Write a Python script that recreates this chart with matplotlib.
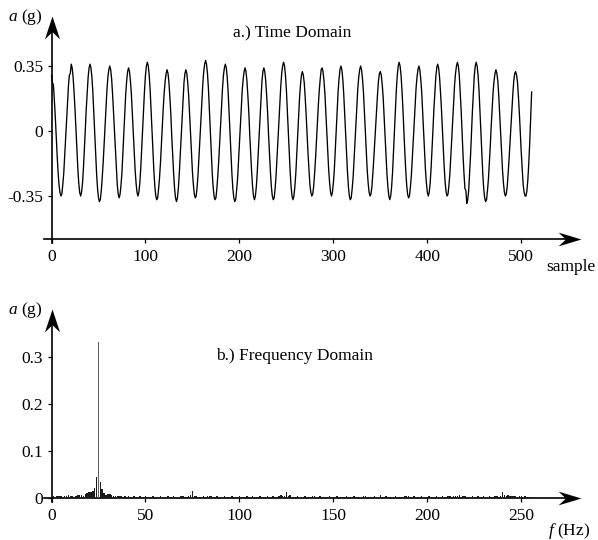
import numpy as np
import matplotlib
matplotlib.use('Agg')
import matplotlib.pyplot as plt

plt.rcParams['font.family'] = ['Liberation Serif', 'DejaVu Serif']
plt.rcParams['mathtext.fontset'] = 'custom'
plt.rcParams['mathtext.it'] = 'Liberation Serif:italic'
plt.rcParams['mathtext.rm'] = 'Liberation Serif'
plt.rcParams['axes.unicode_minus'] = False

# ---------------- data ----------------
# time-domain acceleration, hundredths of g, one value per sample (0..511)
signal_cg = [
    30, 26, 25, 17, 8, -3, -13, -22, -29, -33,
    -35, -34, -29, -23, -14, -5, 5, 15, 24, 30, 31,
    36, 34, 29, 21, 12, 1, -10, -20, -28, -33,
    -35, -33, -28, -20, -10, 1, 12, 21, 29, 34,
    36, 34, 29, 21, 10, -1, -12, -23, -31, -36,
    -38, -37, -32, -25, -17, -7, 4, 14, 22, 29, 33,
    35, 33, 28, 20, 10, 0, -11, -21, -29, -34,
    -36, -34, -29, -22, -12, -1, 10, 20, 27, 32,
    34, 32, 27, 20, 10, 0, -11, -21, -28, -33,
    -35, -33, -28, -20, -10, 1, 12, 22, 30, 35,
    37, 35, 30, 22, 11, 0, -11, -22, -30, -35,
    -37, -36, -31, -25, -17, -7, 3, 13, 21, 27, 31,
    33, 31, 26, 18, 9, -3, -13, -23, -31, -36,
    -38, -36, -31, -23, -13, -2, 8, 18, 26, 31,
    33, 31, 26, 19, 9, -2, -12, -22, -29, -34,
    -36, -35, -30, -23, -14, -4, 6, 16, 25, 32, 36,
    38, 36, 31, 23, 12, 0, -11, -22, -30, -35,
    -37, -36, -31, -24, -16, -6, 5, 15, 23, 30, 34,
    36, 34, 29, 21, 10, -1, -12, -23, -31, -36,
    -38, -37, -32, -26, -17, -7, 3, 13, 22, 28, 32,
    34, 32, 27, 19, 10, -2, -12, -22, -30, -35,
    -37, -35, -30, -22, -12, -1, 9, 19, 27, 32,
    34, 32, 27, 19, 10, -2, -12, -22, -30, -35,
    -37, -36, -31, -24, -15, -5, 5, 15, 24, 31, 35,
    37, 35, 30, 22, 11, 0, -11, -22, -30, -35,
    -37, -35, -30, -23, -13, -2, 8, 18, 25, 30,
    32, 30, 26, 18, 9, -2, -12, -21, -29, -33,
    -35, -34, -30, -23, -15, -5, 4, 14, 22, 28, 33,
    34, 32, 27, 20, 10, 0, -11, -21, -28, -33,
    -35, -33, -28, -21, -11, 0, 11, 21, 28, 33,
    35, 33, 28, 20, 10, -1, -12, -22, -30, -35,
    -37, -36, -31, -25, -16, -6, 4, 14, 23, 29, 33,
    35, 33, 28, 21, 11, 0, -11, -21, -28, -33,
    -35, -34, -30, -23, -15, -6, 3, 12, 20, 27, 31,
    32, 30, 25, 18, 8, -3, -13, -23, -30, -35,
    -37, -35, -30, -22, -11, 0, 11, 22, 30, 35,
    37, 35, 30, 22, 12, 0, -11, -21, -29, -34,
    -36, -35, -30, -24, -15, -5, 4, 14, 23, 29, 33,
    35, 33, 28, 21, 11, 0, -11, -21, -28, -33,
    -35, -33, -28, -20, -10, 1, 12, 21, 29, 34,
    36, 34, 29, 21, 12, 1, -10, -20, -28, -33,
    -35, -34, -29, -23, -14, -4, 6, 16, 25, 31, 35,
    37, 35, 30, 21, 11, -1, -13, -23, -31, -32,
    -39, -37, -32, -23, -13, -1, 11, 21, 30, 35,
    37, 35, 30, 22, 11, 0, -12, -23, -31, -36,
    -38, -37, -32, -26, -17, -8, 3, 12, 21, 27, 31,
    33, 31, 27, 19, 9, -1, -12, -21, -28, -33,
    -35, -34, -30, -23, -15, -6, 3, 12, 20, 27, 31,
    32, 30, 26, 18, 9, -2, -12, -21, -29, -33,
    -35, -35, -32, -26, -17, -6, 7, 21,
]

# spectrum amplitude, thousandths of g, one value per 1 Hz bin (0..256 Hz)
spectrum_mg = [
    3, 4, 3, 4, 4, 4, 3, 4, 4, 6,
    4, 4, 3, 4, 7, 7, 6, 5, 9, 11,
    12, 12, 14, 22, 45, 332, 35, 19, 11, 6,
    8, 8, 7, 5, 5, 4, 5, 4, 3, 4,
    3, 4, 3, 3, 4, 3, 3, 4, 3, 3,
    4, 3, 3, 3, 4, 3, 3, 3, 4, 3,
    3, 3, 4, 3, 3, 4, 3, 3, 3, 4,
    5, 3, 3, 4, 7, 14, 5, 4, 3, 3,
    3, 4, 3, 5, 5, 4, 3, 3, 4, 3,
    3, 3, 4, 3, 3, 3, 4, 3, 3, 3,
    4, 3, 3, 3, 4, 3, 3, 4, 3, 3,
    3, 4, 3, 3, 3, 4, 3, 3, 4, 3,
    3, 4, 6, 4, 5, 13, 5, 6, 3, 3,
    3, 4, 3, 3, 3, 4, 3, 3, 3, 4,
    5, 3, 3, 4, 3, 3, 3, 3, 4, 3,
    3, 3, 4, 3, 3, 3, 3, 4, 3, 3,
    3, 4, 3, 3, 3, 3, 4, 5, 3, 3,
    3, 3, 4, 3, 3, 7, 3, 3, 4, 3,
    3, 3, 3, 4, 3, 3, 3, 3, 4, 5,
    5, 3, 3, 4, 3, 3, 3, 4, 3, 3,
    3, 4, 3, 3, 3, 4, 3, 3, 4, 3,
    3, 4, 4, 3, 5, 5, 4, 7, 3, 4,
    4, 3, 3, 3, 5, 3, 3, 4, 3, 3,
    4, 3, 3, 4, 3, 3, 4, 4, 3, 5,
    12, 6, 5, 6, 5, 4, 4, 5, 3, 4,
    4, 3, 4, 3, 3, 3, 3,
]

time_ticks = [0, 100, 200, 300, 400, 500]
time_yticks = [-0.35, 0, 0.35]
time_ylabels = ['-0.35', '0', '0.35']
freq_ticks = [0, 50, 100, 150, 200, 250]
freq_yticks = [0, 0.1, 0.2, 0.3]
freq_ylabels = ['0', '0.1', '0.2', '0.3']

samples = np.arange(len(signal_cg))
accel = np.array(signal_cg) / 100.0
freqs = np.arange(len(spectrum_mg))
amps = np.array(spectrum_mg) / 1000.0

# ---------------- figure ----------------
W, H = 598, 540
fig = plt.figure(figsize=(W / 100, H / 100), dpi=100)
FS = 12.5

def add_ax(l, t, r, b):
    return fig.add_axes([l / W, 1 - b / H, (r - l) / W, (b - t) / H])

UP = [(0, 0), (0.33, -1), (0, -0.68), (-0.33, -1), (0, 0)]
RIGHT = [(0, 0), (-1, 0.30), (-0.68, 0), (-1, -0.30), (0, 0)]
AMS = 33

def style_axes(ax, xaxis_y, xstart, xtip, ybot, ytip, xgap, ygap):
    for s in ('top', 'right'):
        ax.spines[s].set_visible(False)
    ax.spines['left'].set_position(('data', 0))
    ax.spines['bottom'].set_position(('data', xaxis_y))
    ax.spines['left'].set_bounds(ybot, ytip - ygap)
    ax.spines['bottom'].set_bounds(xstart, xtip - xgap)
    for s in ('left', 'bottom'):
        ax.spines[s].set_linewidth(1.2)
    ax.plot([0], [ytip], marker=UP, ms=AMS, color='black', mew=0,
            clip_on=False, zorder=5)
    ax.plot([xtip], [xaxis_y], marker=RIGHT, ms=AMS, color='black', mew=0,
            clip_on=False, zorder=5)
    ax.tick_params(axis='both', direction='out', length=3, width=0.9,
                   labelsize=FS, colors='black')
    ax.tick_params(axis='y', pad=3)
    ax.tick_params(axis='x', pad=4)
    ax.patch.set_visible(False)

# ---- top: time domain ----
ax1 = add_ax(30, 5, 590, 250)
sx1 = (521.3 - 51.5) / 500.0      # px per sample
sy1 = 65.0 / 0.35                 # px per g
ax1.set_xlim((30 - 51.5) / sx1, (590 - 51.5) / sx1)
ax1.set_ylim((131 - 250) / sy1, (131 - 5) / sy1)
ax1.plot(samples, accel, color='black', lw=0.95)
style_axes(ax1, (131 - 239) / sy1, (44 - 51.5) / sx1, (581 - 51.5) / sx1,
           (131 - 243) / sy1, (131 - 16) / sy1, 12 / sx1, 12 / sy1)
ax1.set_xticks(time_ticks)
ax1.set_xticklabels([str(t) for t in time_ticks])
ax1.set_yticks(time_yticks)
ax1.set_yticklabels(time_ylabels)

# ---- bottom: frequency domain ----
ax2 = add_ax(30, 290, 590, 525)
sx2 = (521.3 - 51.5) / 250.0      # px per Hz
sy2 = 470.0                       # px per g
ax2.set_xlim((30 - 51.5) / sx2, (590 - 51.5) / sx2)
ax2.set_ylim((498 - 525) / sy2, (498 - 290) / sy2)
bar_colors = ['#5e5e5e' if a > 0.1 else '#1a1a1a' for a in amps]
bar_widths = [1.0 if a > 0.1 else 0.8 for a in amps]
ax2.bar(freqs, amps, width=bar_widths, color=bar_colors, linewidth=0, zorder=3)
style_axes(ax2, 0.0, (44 - 51.5) / sx2, (581 - 51.5) / sx2,
           (498 - 502) / sy2, (498 - 309) / sy2, 12 / sx2, 12 / sy2)
ax2.set_xticks(freq_ticks)
ax2.set_xticklabels([str(t) for t in freq_ticks])
ax2.set_yticks(freq_yticks)
ax2.set_yticklabels(freq_ylabels)

# ---- texts ----
def ftext(x, y, s, **kw):
    fig.text(x / W, 1 - y / H, s, fontsize=FS, ha='center', va='center', **kw)

ftext(25.5, 17, r'$a$ (g)')
ftext(292, 33, 'a.) Time Domain')
ftext(571, 267, 'sample')
ftext(25.5, 310, r'$a$ (g)')
ftext(295, 356, 'b.) Frequency Domain')
ftext(569, 531, r'$f$ (Hz)')

fig.savefig('out.png', dpi=100)
